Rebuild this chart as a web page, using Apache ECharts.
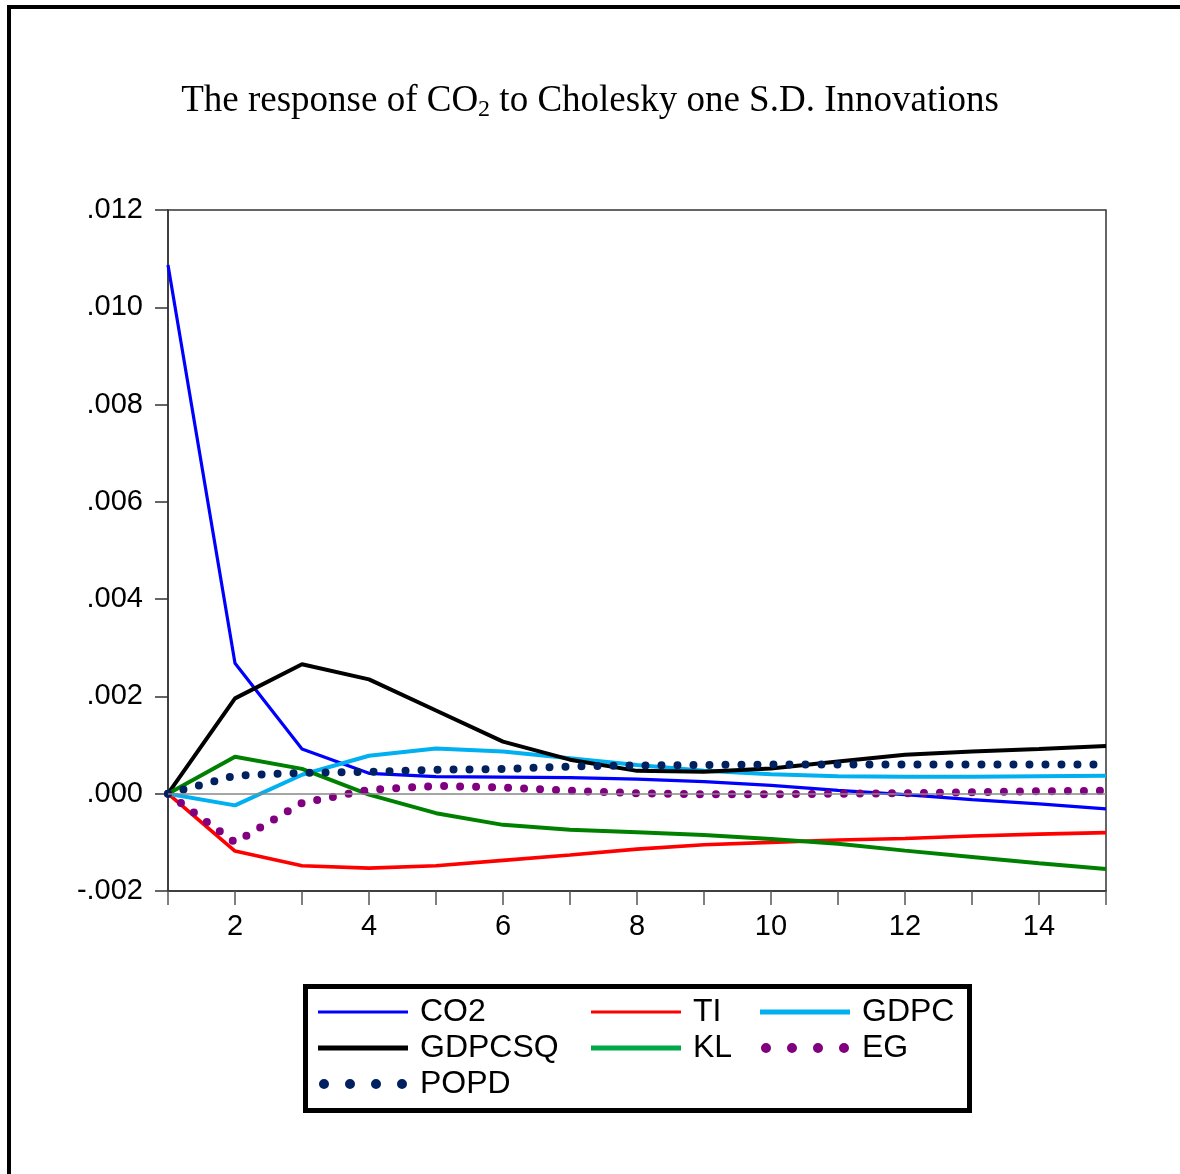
<!DOCTYPE html>
<html>
<head>
<meta charset="utf-8">
<script src="https://cdn.jsdelivr.net/npm/echarts@6/dist/echarts.min.js"></script>
<style>
html,body{margin:0;padding:0;background:#fff;}
#chart{width:1180px;height:1174px;}
</style>
</head>
<body>
<div id="chart"></div>
<script>
var periods = [1,2,3,4,5,6,7,8,9,10,11,12,13,14,15];
var yTicks = [-0.002, 0.000, 0.002, 0.004, 0.006, 0.008, 0.010, 0.012];
var seriesNames = ['CO2','TI','GDPC','GDPCSQ','KL','EG','POPD'];
var CO2    = [0.01087, 0.00268, 0.00092, 0.00042, 0.00035, 0.00034, 0.00033, 0.00030, 0.00025, 0.00017, 0.00007, -0.00002, -0.00012, -0.00021, -0.00031];
var TI     = [0, -0.00118, -0.00148, -0.00153, -0.00148, -0.00137, -0.00126, -0.00114, -0.00105, -0.00100, -0.00095, -0.00092, -0.00087, -0.00083, -0.00080];
var GDPC   = [0, -0.00024, 0.00039, 0.00078, 0.00093, 0.00087, 0.00073, 0.00059, 0.00047, 0.00040, 0.00036, 0.00035, 0.00035, 0.00036, 0.00037];
var GDPCSQ = [0, 0.00196, 0.00266, 0.00235, 0.00171, 0.00107, 0.00070, 0.00047, 0.00045, 0.00052, 0.00066, 0.00080, 0.00087, 0.00092, 0.00098];
var KL     = [0, 0.00076, 0.00051, -0.00002, -0.00040, -0.00064, -0.00074, -0.00079, -0.00085, -0.00093, -0.00103, -0.00117, -0.00130, -0.00143, -0.00155];
var EG     = [0, -0.00100, -0.00019, 0.00008, 0.00016, 0.00013, 0.00006, 0.00001, -0.00001, -0.00001, 0.00000, 0.00001, 0.00003, 0.00005, 0.00006];
var POPD   = [0, 0.00037, 0.00043, 0.00045, 0.00049, 0.00051, 0.00056, 0.00058, 0.00059, 0.00060, 0.00060, 0.00060, 0.00060, 0.00060, 0.00060];

var chart = echarts.init(document.getElementById('chart'), null, {renderer:'canvas'});

var thinIcon = 'path://M0,0h90v3h-90z';
var thickIcon = 'path://M0,0h90v5h-90z';
function circ(cx){ return 'M'+(cx-5)+',5a5,5 0 1,0 10,0a5,5 0 1,0 -10,0z'; }
var dotIcon = 'path://' + circ(5) + circ(31) + circ(57) + circ(83);

function fmtY(v){
  var s = Number(v).toFixed(3);
  return s.replace(/^(-?)0\./, '$1.');
}

var sans = 'Liberation Sans, Arial, Helvetica, sans-serif';
var legendText = {fontFamily:sans, fontSize:32, color:'#000', lineHeight:36, padding:[0,0,0,7]};
function mkLegend(left, items){
  return {
    orient:'vertical', left:left, top:994, padding:0, itemGap:0,
    itemWidth:90, itemHeight:10, selectedMode:false,
    itemStyle:{borderWidth:0},
    textStyle:legendText,
    data:items
  };
}

function lineSeries(name, data, color, width){
  return {
    name:name, type:'line', data:data, symbol:'none', smooth:false,
    lineStyle:{color:color, width:width}, itemStyle:{color:color},
    emphasis:{disabled:true}, animation:false
  };
}
function dotSeries(name, data, color){
  return {
    name:name, type:'line', data:data, symbol:'none',
    lineStyle:{color:color, width:8, type:[0,16], cap:'round'}, itemStyle:{color:color},
    emphasis:{disabled:true}, animation:false
  };
}

var s0 = lineSeries('CO2', CO2, '#0000FF', 3.2);
s0.markLine = {silent:true, symbol:'none', label:{show:false}, lineStyle:{color:'#888', width:1.5, type:'solid'}, data:[{yAxis:0}], animation:false};

var serif = 'Liberation Serif, Times New Roman, serif';
var option = {
  backgroundColor:'#fff',
  animation:false,
  title:{
    left:'center', top:75,
    text:'{a|The response of CO}{s|2}{a| to Cholesky one S.D. Innovations}',
    textStyle:{
      fontWeight:'normal',
      rich:{
        a:{fontFamily:serif, fontWeight:'normal', fontSize:37, lineHeight:42, color:'#000'},
        s:{fontFamily:serif, fontWeight:'normal', fontSize:24, lineHeight:24, verticalAlign:'bottom', color:'#000'}
      }
    }
  },
  grid:{left:168, right:74, top:210, bottom:283, show:true, borderColor:'#333', borderWidth:1.5, containLabel:false},
  xAxis:{
    type:'category', data:periods, boundaryGap:false,
    axisLine:{show:true, onZero:false, lineStyle:{color:'#333', width:1.5}},
    axisTick:{show:true, inside:false, length:14, interval:0, lineStyle:{color:'#555', width:1.5}},
    axisLabel:{interval:0, margin:21, fontFamily:sans, fontSize:29, color:'#000',
      formatter:function(v){ return (Number(v)%2===0) ? v : ''; }},
    splitLine:{show:false}
  },
  yAxis:{
    type:'value', min:yTicks[0], max:yTicks[yTicks.length-1], interval:0.002,
    axisLine:{show:true, lineStyle:{color:'#333', width:1.5}},
    axisTick:{show:true, inside:false, length:13, lineStyle:{color:'#333', width:1.5}},
    axisLabel:{margin:25, fontFamily:sans, fontSize:29, color:'#000', formatter:fmtY},
    splitLine:{show:false}
  },
  legend:[
    mkLegend(318, [
      {name:'CO2', icon:thinIcon, itemStyle:{color:'#0000FF'}},
      {name:'GDPCSQ', icon:thickIcon, itemStyle:{color:'#000000'}},
      {name:'POPD', icon:dotIcon, itemStyle:{color:'#002060'}}
    ]),
    mkLegend(591, [
      {name:'TI', icon:thinIcon, itemStyle:{color:'#FF0000'}},
      {name:'KL', icon:thickIcon, itemStyle:{color:'#00A84A'}}
    ]),
    mkLegend(760, [
      {name:'GDPC', icon:thickIcon, itemStyle:{color:'#00B0F0'}},
      {name:'EG', icon:dotIcon, itemStyle:{color:'#800080'}}
    ])
  ],
  graphic:[
    {type:'rect', silent:true, z:-1, shape:{x:9, y:7, width:1200, height:1200}, style:{fill:'none', stroke:'#000', lineWidth:4}},
    {type:'rect', silent:true, shape:{x:305.5, y:986.5, width:664, height:124}, style:{fill:'none', stroke:'#000', lineWidth:5}}
  ],
  series:[
    s0,
    lineSeries('TI', TI, '#FF0000', 3.6),
    lineSeries('GDPC', GDPC, '#00B0F0', 4),
    lineSeries('GDPCSQ', GDPCSQ, '#000000', 4),
    lineSeries('KL', KL, '#008000', 4),
    dotSeries('EG', EG, '#800080'),
    dotSeries('POPD', POPD, '#002060')
  ]
};
chart.setOption(option);
</script>
</body>
</html>
